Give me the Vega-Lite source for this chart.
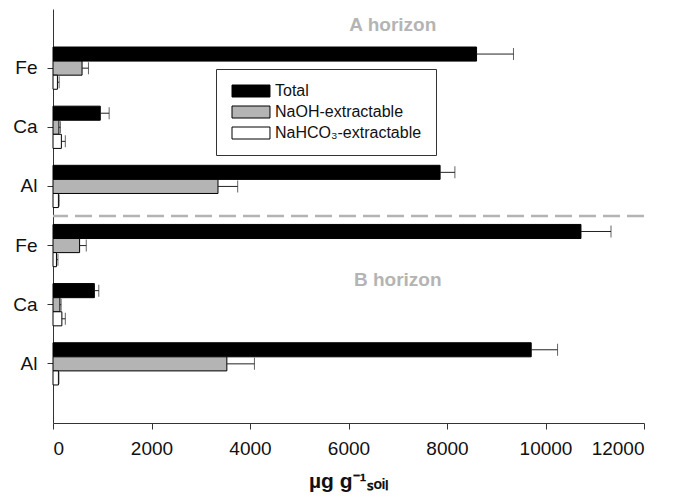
{
  "$schema": "https://vega.github.io/schema/vega-lite/v6.json",
  "width": 591,
  "height": 414,
  "autosize": {"type": "none"},
  "padding": {"left": 53, "top": 9, "right": 29, "bottom": 77},
  "config": {
    "view": {"stroke": null},
    "font": "Liberation Sans",
    "axis": {"domainColor": "#333", "tickColor": "#333", "labelColor": "#111", "titleColor": "#111", "grid": false, "domainWidth": 1, "tickWidth": 1}
  },
  "data": {
    "values": [
      {"row": "A Fe", "type": "Total", "v": 8600, "hi": 9350},
      {"row": "A Fe", "type": "NaOH-extractable", "v": 590, "hi": 720},
      {"row": "A Fe", "type": "NaHCO₃-extractable", "v": 90, "hi": 125},
      {"row": "A Ca", "type": "Total", "v": 960, "hi": 1140},
      {"row": "A Ca", "type": "NaOH-extractable", "v": 120, "hi": 150},
      {"row": "A Ca", "type": "NaHCO₃-extractable", "v": 170, "hi": 250},
      {"row": "A Al", "type": "Total", "v": 7860, "hi": 8160},
      {"row": "A Al", "type": "NaOH-extractable", "v": 3350, "hi": 3750},
      {"row": "A Al", "type": "NaHCO₃-extractable", "v": 110, "hi": 125},
      {"row": "B Fe", "type": "Total", "v": 10720, "hi": 11330},
      {"row": "B Fe", "type": "NaOH-extractable", "v": 540, "hi": 675},
      {"row": "B Fe", "type": "NaHCO₃-extractable", "v": 70, "hi": 100},
      {"row": "B Ca", "type": "Total", "v": 840, "hi": 930},
      {"row": "B Ca", "type": "NaOH-extractable", "v": 140, "hi": 165},
      {"row": "B Ca", "type": "NaHCO₃-extractable", "v": 180, "hi": 250},
      {"row": "B Al", "type": "Total", "v": 9710, "hi": 10245},
      {"row": "B Al", "type": "NaOH-extractable", "v": 3530, "hi": 4090},
      {"row": "B Al", "type": "NaHCO₃-extractable", "v": 110, "hi": 120}
    ]
  },
  "encoding": {
    "y": {
      "field": "row", "type": "nominal",
      "scale": {"domain": ["A Fe", "A Ca", "A Al", "B Fe", "B Ca", "B Al"], "paddingInner": 0, "paddingOuter": 0.5},
      "axis": {"title": null, "labelExpr": "slice(datum.label, 2)", "labelFontSize": 19, "labelPadding": 10, "tickSize": 6}
    }
  },
  "layer": [
    {
      "mark": {"type": "bar", "stroke": "black", "strokeWidth": 1},
      "encoding": {
        "yOffset": {"field": "type", "scale": {"domain": ["Total", "NaOH-extractable", "NaHCO₃-extractable"], "paddingInner": 0, "paddingOuter": 0.6}},
        "x": {
          "field": "v", "type": "quantitative",
          "scale": {"domain": [0, 12000], "nice": false},
          "axis": {"values": [0, 2000, 4000, 6000, 8000, 10000, 12000], "format": "d", "labelFontSize": 19, "labelPadding": 10, "tickSize": 6, "title": "µg g⁻¹ₛₒᵢₗ", "titleFontSize": 21, "titleFontWeight": "bold", "titlePadding": 12}
        },
        "fill": {
          "field": "type", "type": "nominal",
          "scale": {"domain": ["Total", "NaOH-extractable", "NaHCO₃-extractable"], "range": ["black", "#b4b4b4", "white"]},
          "legend": {
            "title": null, "orient": "none", "legendX": 163, "legendY": 60,
            "symbolType": "M-1,-1H5.33V1H-1Z", "symbolSize": 144,
            "symbolStrokeColor": "black", "symbolStrokeWidth": 1,
            "labelFontSize": 16, "labelColor": "#111", "labelOffset": 29, "labelLimit": 300,
            "strokeColor": "#333", "fillColor": "white", "padding": 14, "rowPadding": 5
          }
        }
      }
    },
    {
      "mark": {"type": "rule", "color": "#222", "strokeWidth": 1},
      "encoding": {
        "yOffset": {"field": "type", "scale": {"domain": ["Total", "NaOH-extractable", "NaHCO₃-extractable"], "paddingInner": 0, "paddingOuter": 0.6}},
        "x": {"field": "v", "type": "quantitative"},
        "x2": {"field": "hi"}
      }
    },
    {
      "mark": {"type": "tick", "orient": "vertical", "color": "#222", "size": 12, "thickness": 1},
      "encoding": {
        "yOffset": {"field": "type", "scale": {"domain": ["Total", "NaOH-extractable", "NaHCO₃-extractable"], "paddingInner": 0, "paddingOuter": 0.6}},
        "x": {"field": "hi", "type": "quantitative"}
      }
    },
    {
      "data": {"values": [{"row": "B Fe"}]},
      "mark": {"type": "rule", "color": "#b4b4b4", "strokeWidth": 2.5, "strokeDash": [17, 7]},
      "encoding": {
        "y": {"field": "row", "type": "nominal", "bandPosition": 0}
      }
    },
    {
      "data": {"values": [{"row": "A Fe", "label": "A horizon", "x": 6900}]},
      "mark": {"type": "text", "fontSize": 19, "fontWeight": "bold", "color": "#b4b4b4", "dy": -43},
      "encoding": {
        "x": {"field": "x", "type": "quantitative"},
        "text": {"field": "label"}
      }
    },
    {
      "data": {"values": [{"row": "B Fe", "label": "B horizon", "x": 7000}]},
      "mark": {"type": "text", "fontSize": 19, "fontWeight": "bold", "color": "#b4b4b4", "dy": 34},
      "encoding": {
        "x": {"field": "x", "type": "quantitative"},
        "text": {"field": "label"}
      }
    }
  ]
}
